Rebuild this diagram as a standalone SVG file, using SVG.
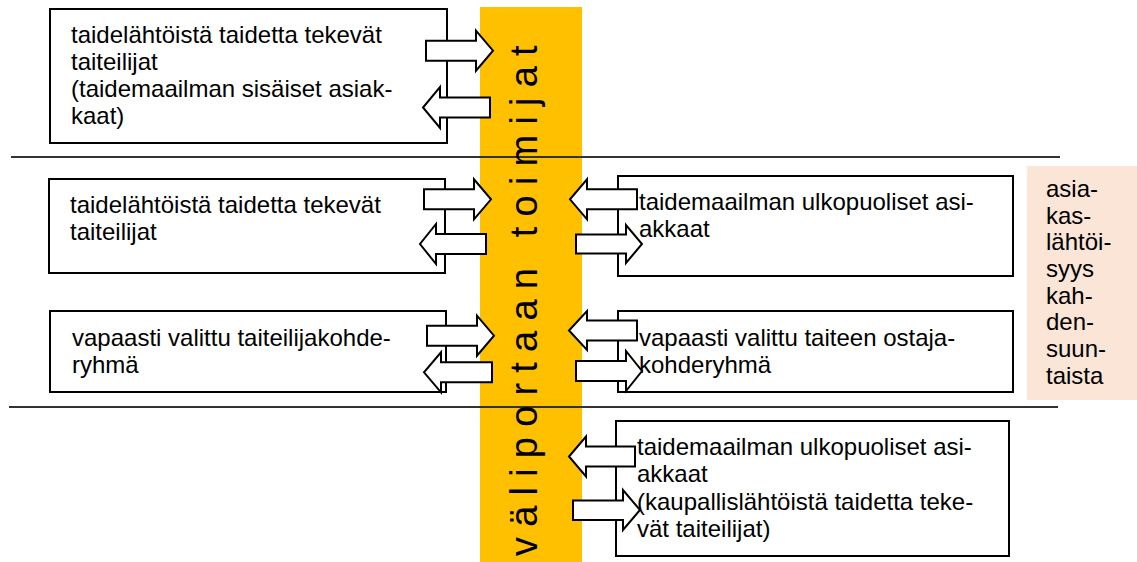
<svg xmlns="http://www.w3.org/2000/svg" width="1137" height="562" viewBox="0 0 1137 562">
<style>
.box{fill:#fff;stroke:#000;stroke-width:2}
.arr{fill:#fff;stroke:#000;stroke-width:2;stroke-linejoin:miter}
.t{font-family:"Liberation Sans",Arial,sans-serif;font-size:24px;fill:#000}
.vt{font-family:"Liberation Sans",Arial,sans-serif;font-size:38px;fill:#000;letter-spacing:10.2px}
.sep{stroke:#333;stroke-width:2}
</style>
<rect id="band" x="480" y="7" width="102" height="555" fill="#FFC000"/>
<g id="separators">
<line class="sep" x1="11" y1="157" x2="1060" y2="157"/>
<line class="sep" x1="9" y1="407" x2="1058" y2="407"/>
</g>
<g id="band-label">
<text class="vt" transform="translate(537,556) rotate(-90)">väliportaan toimijat</text>
</g>
<g id="node-artists-inner">
<rect class="box" x="50" y="9" width="397" height="134"/>
<text class="t" x="71" y="43">taidelähtöistä taidetta tekevät</text>
<text class="t" x="71" y="70">taiteilijat</text>
<text class="t" x="71" y="97">(taidemaailman sisäiset asiak-</text>
<text class="t" x="71" y="124">kaat)</text>
</g>
<g id="node-artists">
<rect class="box" x="49" y="179" width="396" height="94"/>
<text class="t" x="70" y="213">taidelähtöistä taidetta tekevät</text>
<text class="t" x="70" y="240">taiteilijat</text>
</g>
<g id="node-artist-group">
<rect class="box" x="50" y="311" width="396" height="81"/>
<text class="t" x="72" y="346">vapaasti valittu taiteilijakohde-</text>
<text class="t" x="72" y="373">ryhmä</text>
</g>
<g id="node-outside-clients">
<rect class="box" x="618" y="176" width="395" height="100"/>
<text class="t" x="639" y="210">taidemaailman ulkopuoliset asi-</text>
<text class="t" x="639" y="237">akkaat</text>
</g>
<g id="node-buyer-group">
<rect class="box" x="618" y="311" width="395" height="81"/>
<text class="t" x="639" y="346">vapaasti valittu taiteen ostaja-</text>
<text class="t" x="639" y="373">kohderyhmä</text>
</g>
<g id="node-outside-commercial">
<rect class="box" x="616" y="421" width="393" height="135"/>
<text class="t" x="637" y="455">taidemaailman ulkopuoliset asi-</text>
<text class="t" x="637" y="482">akkaat</text>
<text class="t" x="637" y="510">(kaupallislähtöistä taidetta teke-</text>
<text class="t" x="637" y="537">vät taiteilijat)</text>
</g>
<g id="node-customer-orientation">
<rect x="1027" y="166" width="110" height="234" fill="#FBE5D6"/>
<text class="t" x="1046" y="197">asia-</text>
<text class="t" x="1046" y="224">kas-</text>
<text class="t" x="1046" y="250">lähtöi-</text>
<text class="t" x="1046" y="277">syys</text>
<text class="t" x="1046" y="304">kah-</text>
<text class="t" x="1046" y="330">den-</text>
<text class="t" x="1046" y="357">suun-</text>
<text class="t" x="1046" y="384">taista</text>
</g>
<g id="connectors">
<polygon class="arr" points="426,40.7 476,40.7 476,30.7 493,50.7 476,70.7 476,60.7 426,60.7"/>
<polygon class="arr" points="490,97.5 440,97.5 440,87 423,107.5 440,128 440,117.5 490,117.5"/>
<polygon class="arr" points="424,189.3 474,189.3 474,179.3 491,199.3 474,219.3 474,209.3 424,209.3"/>
<polygon class="arr" points="486,234 436,234 436,224 420,244 436,264 436,254 486,254"/>
<polygon class="arr" points="427,325.7 477,325.7 477,315.7 494,335.7 477,355.7 477,345.7 427,345.7"/>
<polygon class="arr" points="492,362.3 441,362.3 441,352.3 424,372.3 441,392.3 441,382.3 492,382.3"/>
<polygon class="arr" points="637,189.3 587,189.3 587,179.3 570,199.3 587,219.3 587,209.3 637,209.3"/>
<polygon class="arr" points="576,234.5 626,234.5 626,225 642,244 626,263 626,253.5 576,253.5"/>
<polygon class="arr" points="637,320.5 587,320.5 587,311 569,330.5 587,350 587,340.5 637,340.5"/>
<polygon class="arr" points="576,361 626,361 626,351 642,371 626,391 626,381 576,381"/>
<polygon class="arr" points="635,446.5 586,446.5 586,436.5 569,456.5 586,476.5 586,466.5 635,466.5"/>
<polygon class="arr" points="573,500.5 623,500.5 623,490 640,510 623,530 623,520 573,520"/>
</g>
</svg>
